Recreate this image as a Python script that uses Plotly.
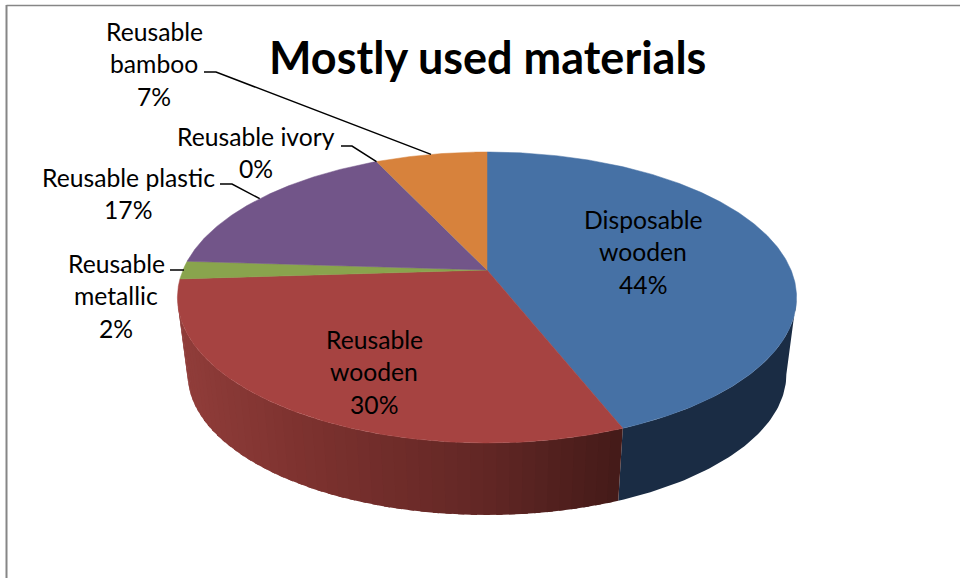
import math
import plotly.graph_objects as go

# Chart content
TITLE = "Mostly used materials"
categories = ["Disposable wooden", "Reusable wooden", "Reusable metallic",
              "Reusable plastic", "Reusable ivory", "Reusable bamboo"]
shares = [44, 30, 2, 17, 0, 7]
label_lines = [["Disposable", "wooden"], ["Reusable", "wooden"], ["Reusable", "metallic"],
               ["Reusable plastic"], ["Reusable ivory"], ["Reusable", "bamboo"]]
top_colors = ["#4671A5", "#A64341", "#89A44D", "#725589", "#7F9FC0", "#D7823C"]

# Label placement: centre x and y of the first line, in page pixels
label_x = [643, 374, 116, 128, 256, 154]
label_y = [219, 339, 263, 177, 136, 31]
LINE_STEP = 32.8
# Leader elbow start and bend x, y for outside labels; None means no leader
leaders = [None, None, (170, 184, 270), (220, 232, 184), (341, 352, 146), (204, 216, 72)]

# Perspective disc geometry
CX, APEX_Y, TILT, HALF_W, HALF_H = 487, 270, 0.189, 304, 140.3
BASE_APEX_Y, BASE_SCALE = 347.7, 0.967

# Shading stops along the visible wall, by page x
BLUE_WALL = "#1A2C44"
RED_WALL_STOPS = [(188, (143, 60, 57)), (300, (125, 50, 47)), (480, (99, 39, 37)), (630, (66, 26, 24))]


def rim(theta_deg):
    t = math.radians(theta_deg)
    u, v = math.sin(t), math.cos(t)
    d = 1 + TILT * v
    return CX + HALF_W * u / d, APEX_Y - HALF_H * v / d


def base(theta_deg):
    x, y = rim(theta_deg)
    return CX + BASE_SCALE * (x - CX), BASE_APEX_Y + BASE_SCALE * (y - APEX_Y)


def red_shade(x):
    stops = RED_WALL_STOPS
    if x <= stops[0][0]:
        c = stops[0][1]
    elif x >= stops[-1][0]:
        c = stops[-1][1]
    else:
        for (x0, c0), (x1, c1) in zip(stops, stops[1:]):
            if x0 <= x <= x1:
                f = (x - x0) / (x1 - x0)
                c = tuple(c0[i] + f * (c1[i] - c0[i]) for i in range(3))
                break
    return "rgb(%d,%d,%d)" % tuple(round(p) for p in c)


def wall(a0, a1, color):
    n = max(2, int(abs(a1 - a0)) + 1)
    angles = [a0 + (a1 - a0) * i / n for i in range(n + 1)]
    top = [rim(a) for a in angles]
    bot = [base(a) for a in reversed(angles)]
    pts = top + bot + [top[0]]
    return go.Scatter(x=[p[0] for p in pts], y=[p[1] for p in pts], mode="lines", fill="toself",
                      fillcolor=color, line=dict(width=0), hoverinfo="skip", showlegend=False)


total = sum(shares)
edges = [0]
for s in shares:
    edges.append(edges[-1] + 360 * s / total)

fig = go.Figure()

# Side wall: only the front part of the disc is visible
silhouette = math.degrees(math.acos(-TILT))
fig.add_trace(wall(silhouette, edges[1], BLUE_WALL))
left_limit = 360 - silhouette
STRIPS = 50
span = edges[1] - left_limit
# Each strip runs under the next one, which hides the seams between them
for i in range(STRIPS):
    a0 = left_limit + span * i / STRIPS
    a1 = left_limit + span * (i + 1) / STRIPS
    a1_lap = max(edges[1], a1 - 1.0)
    fig.add_trace(wall(a0, a1_lap, red_shade((rim(a0)[0] + rim(a1)[0]) / 2)))

# Top face
for i, name in enumerate(categories):
    a0, a1 = edges[i], edges[i + 1]
    n = max(1, int((a1 - a0) * 2))
    arc = [rim(a0 + (a1 - a0) * j / n) for j in range(n + 1)]
    pts = [(CX, APEX_Y)] + arc + [(CX, APEX_Y)]
    fig.add_trace(go.Scatter(x=[p[0] for p in pts], y=[p[1] for p in pts], mode="lines", fill="toself",
                             fillcolor=top_colors[i], line=dict(color=top_colors[i], width=0.5),
                             name=name, showlegend=False))

# Leader lines run from a label to the middle of its slice's rim
for i, lead in enumerate(leaders):
    if lead is None:
        continue
    ex, ey = rim((edges[i] + edges[i + 1]) / 2)
    fig.add_trace(go.Scatter(x=[lead[0], lead[1], ex], y=[lead[2], lead[2], ey], mode="lines",
                             line=dict(color="#000000", width=1.5), hoverinfo="skip", showlegend=False))

FONT = "Lato, Carlito, Calibri, sans-serif"
notes = [dict(x=487, y=57, text="<b>%s</b>" % TITLE, font=dict(size=45, family=FONT, color="#000000"))]
for i, lines in enumerate(label_lines):
    texts = lines + ["%d%%" % shares[i]]
    for j, t in enumerate(texts):
        notes.append(dict(x=label_x[i], y=label_y[i] + j * LINE_STEP, text=t,
                          font=dict(size=24.7, family=FONT, color="#000000")))
for n in notes:
    n.update(xref="x", yref="y", showarrow=False, xanchor="center", yanchor="middle")

# Chart frame: only the top and left edges fall inside the page
frame = [dict(type="line", xref="x", yref="y", x0=6.5, x1=960, y0=5.5, y1=5.5, line=dict(color="#868686", width=1.5)),
         dict(type="line", xref="x", yref="y", x0=6.5, x1=6.5, y0=5, y1=578, line=dict(color="#868686", width=2))]

fig.update_layout(width=960, height=578, margin=dict(l=0, r=0, t=0, b=0),
                  paper_bgcolor="white", plot_bgcolor="white", showlegend=False,
                  annotations=notes, shapes=frame,
                  xaxis=dict(range=[0, 960], visible=False, fixedrange=True),
                  yaxis=dict(range=[578, 0], visible=False, fixedrange=True))
fig.write_html("out.html", config=dict(displayModeBar=False))
